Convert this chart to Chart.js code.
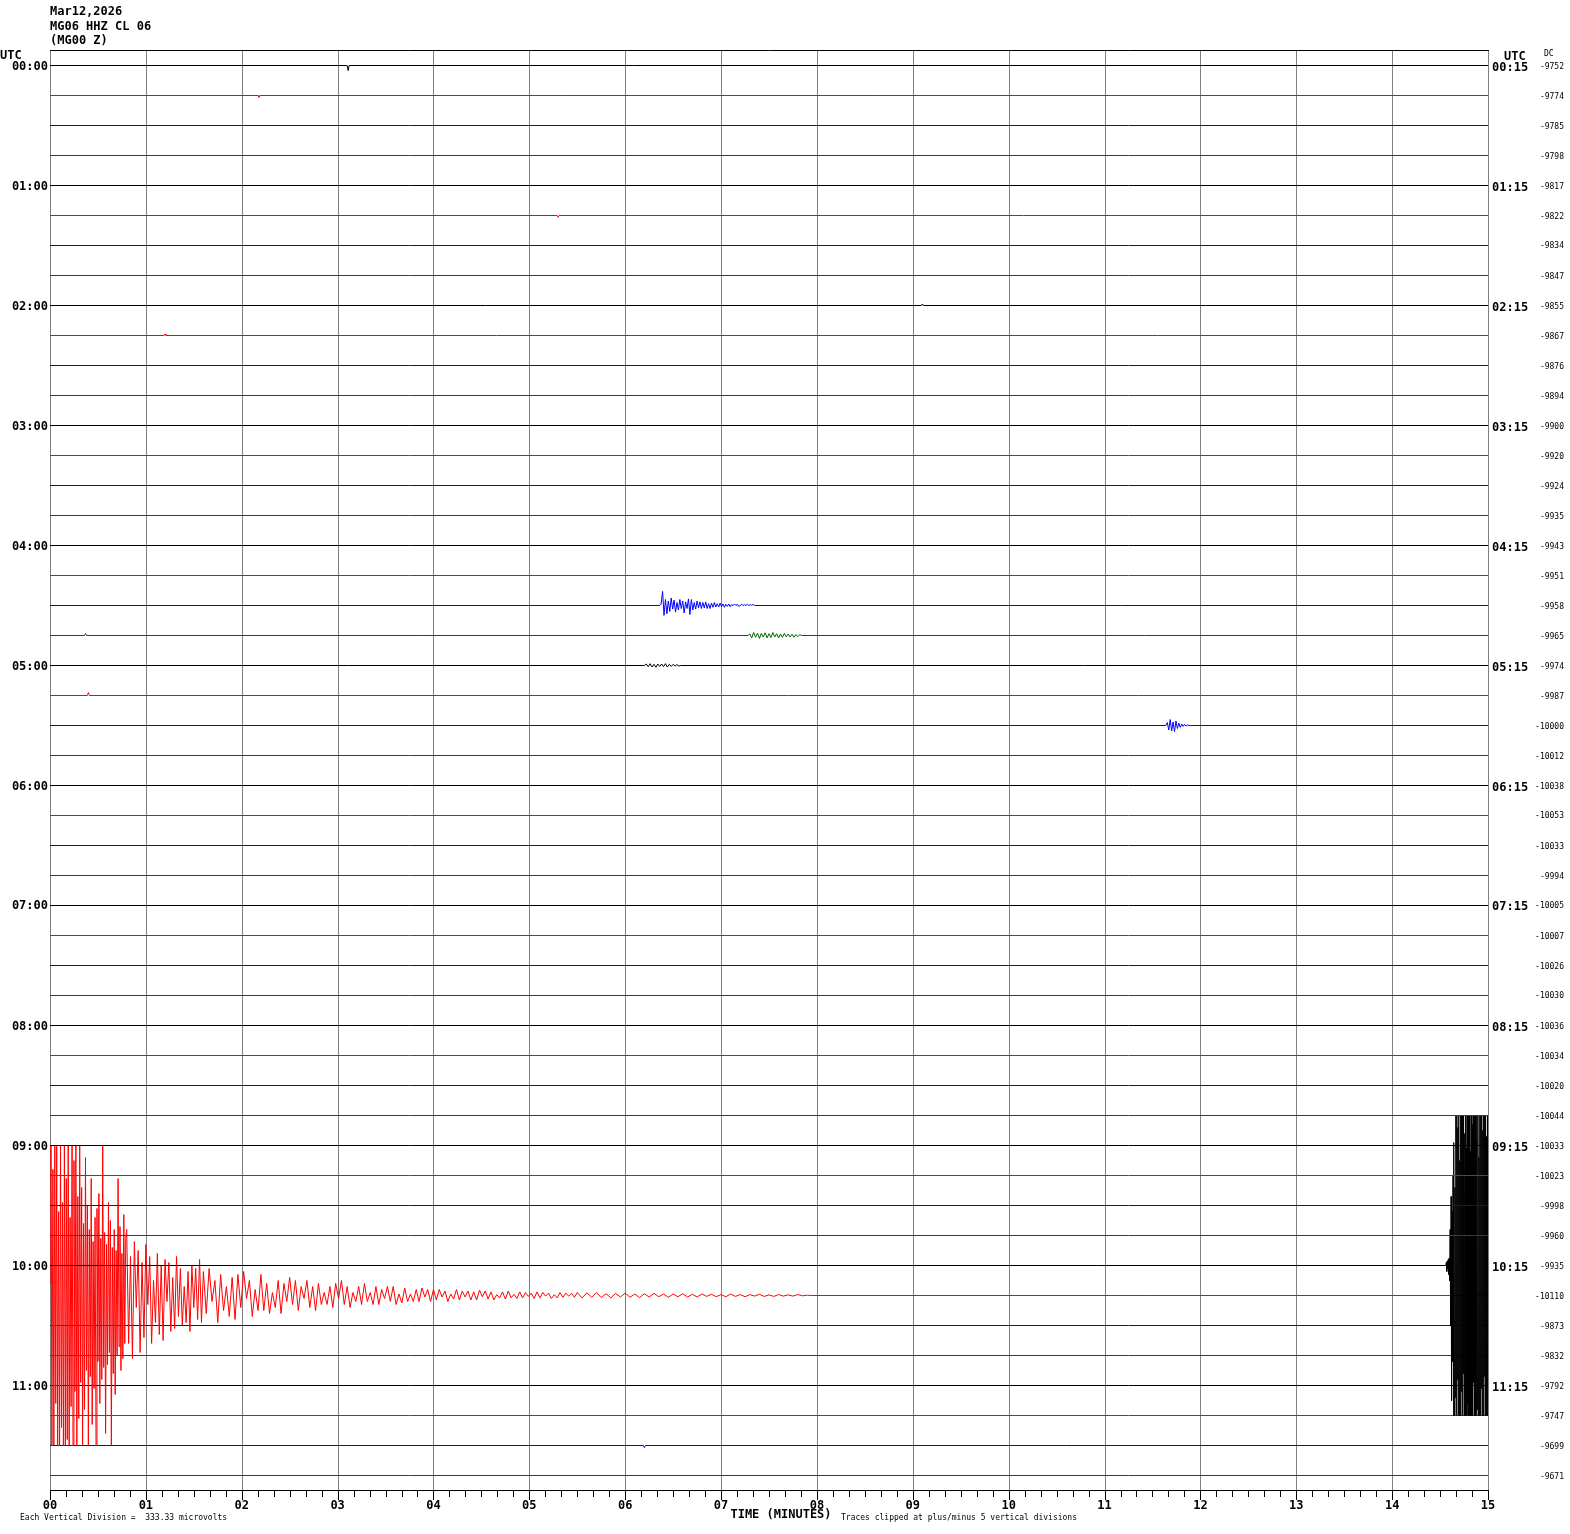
<!DOCTYPE html>
<html>
<head>
<meta charset="utf-8">
<title>MG06 HHZ CL 06 helicorder</title>
<script src="https://cdn.jsdelivr.net/npm/chart.js@4"></script>
<style>
  html, body { margin: 0; padding: 0; background: #fff; }
  canvas { display: block; }
</style>
</head>
<body>
<canvas id="heli" width="1570" height="1534"></canvas>
<script>
// header text
const titleLines = ['Mar12,2026', 'MG06 HHZ CL 06', '(MG00 Z)'];

// one trace every 15 minutes, labels on each hour row
const hourLabels = ['00:00', '01:00', '02:00', '03:00', '04:00', '05:00', '06:00', '07:00', '08:00', '09:00', '10:00', '11:00'];
const hourLabelsRight = ['00:15', '01:15', '02:15', '03:15', '04:15', '05:15', '06:15', '07:15', '08:15', '09:15', '10:15', '11:15'];
const minuteTicks = ['00', '01', '02', '03', '04', '05', '06', '07', '08', '09', '10', '11', '12', '13', '14', '15'];
const traceColors = ['#000000', '#ff0000', '#0000ff', '#006400'];

// DC offset per trace
const dcValues = [
  -9752, -9774, -9785, -9798, -9817, -9822, -9834, -9847,
  -9855, -9867, -9876, -9894, -9900, -9920, -9924, -9935,
  -9943, -9951, -9958, -9965, -9974, -9987, -10000, -10012,
  -10038, -10053, -10033, -9994, -10005, -10007, -10026, -10030,
  -10036, -10034, -10020, -10044, -10033, -10023, -9998, -9960,
  -9935, -10110, -9873, -9832, -9792, -9747, -9699, -9671
];

// deflections in vertical divisions (up = positive)
const blackOnset = [
  0, 0.1, -0.2, 0.15, -0.1, 0.2, -0.3, 0.25, -0.5, 1.2,
  -2.0, 2.3, -4.5, 1.8, -3.2, 3.0, -5, 4.1, -5, 2.6,
  -4.4, 5, -5, 5, -3.8, 4.6, -5, 5, -5, 3.5,
  -5, 5, -4.2, 5, -5, 5, -3.6, 5, -5, 4.4,
  -5, 5, -5, 3.9, -5, 5, -4.6, 5, -5, 5,
  -5, 3.8, -5, 5, -5, 4.7, -5, 5, -3.9, 5,
  -5, 5, -5, 4.2, -5, 5, -4.8, 5, -5, 3.6,
  -5, 5, -5, 5, -4.1, 5, -5, 4.5, -5, 5,
  -3.7, 5, -5, 5, -5, 4.3, -5, 5
];
const redCodaA = [
  0.4, 5, -5, 4.2, -5, 5, -3.6, 5, -5, 2.8,
  -5, 5, -4.4, 3.1, -5, 5, -5, 3.9, -4.8, 5,
  -5, 2.6, -3.7, 5, -5, 4.5, -3.2, 5, -5, 3.3,
  -4.1, 5, -2.9, 3.6, -5, 2.4, -3.8, 4.6, -2.5, 3.0,
  -5, 2.2, -2.7, 3.9, -4.3, 1.8, -3.1, 2.6, -5, 2.9,
  -2.2, 3.4, -3.6, 1.9, -2.8, 5, -2.4, 2.1, -4.6, 1.7,
  -2.3, 3.1, -1.9, 2.5, -5, 1.6, -2.6, 2.2, -3.3, 1.5,
  -2.0, 3.9, -1.7, 2.3, -2.5, 1.4, -2.1, 2.7, -1.6, 1.9
];
const redCodaB = [
  2.2, -1.6, 1.3, -2.1, 1.8, -0.4, 1.5, -1.9, 1.1, -1.4,
  1.7, -0.3, 1.3, -1.6, 0.5, -0.9, 1.4, -1.3, 1.0, -1.5,
  1.2, -0.2, 1.1, -1.2, 0.6, -1.1, 1.3, -0.7, 0.9, -1.0,
  0.3, -0.9, 0.8, -1.2, 1.0, -0.4, 0.9, -0.8, 1.2, -0.9
];
const redCodaC = [
  0.8, -0.6, 0.9, -0.2, 0.5, -0.9, 0.7, -0.5, 0.3, -0.7,
  0.6, -0.8, 0.7, -0.4, 0.8, -0.1, 0.5, -0.7, 0.2, -0.5,
  0.7, -0.5, 0.4, -0.6, 0.1, -0.4, 0.5, -0.6, 0.4, -0.2,
  0.6, -0.3, 0.5, -0.5, 0.3, -0.1, 0.5, -0.4, 0.3, -0.5,
  0.4, -0.3, 0.1, -0.3, 0.3, -0.4, 0.4, -0.1, 0.5, -0.3,
  0.3, -0.4, 0.1, -0.2, 0.3, -0.3, 0.4, -0.2, 0.1, -0.3,
  0.3, -0.3, 0.2, -0.1, 0.3, -0.2, 0.3, -0.3, 0.05, -0.25,
  0.25, -0.2, 0.05, -0.2, 0.2, -0.2, 0.25, -0.05, 0.2, -0.2,
  0.2, -0.15, 0.2, -0.05, 0.15, -0.2, 0.05, -0.12, 0.2, -0.15,
  0.15, -0.05, 0.15, -0.15, 0.12, -0.15, 0.18, -0.04, 0.15, -0.12,
  0.12, -0.15, 0.03, -0.08, 0.12, -0.12, 0.15, -0.08, 0.04, -0.1,
  0.12, -0.08, 0.1, -0.03, 0.08, -0.1, 0.12, -0.08, 0.1, -0.02,
  0.08, -0.1, 0.03, -0.08, 0.1, -0.06, 0.08, -0.02, 0.07, -0.06
];
const redCodaD = [
  0.1, -0.08, 0.09, -0.06, 0.1, -0.07, 0.06, -0.08, 0.07, -0.05,
  0.08, -0.06, 0.05, -0.07, 0.06, -0.05, 0.07, -0.04, 0.05, -0.06,
  0.05, -0.04, 0.06, -0.05, 0.04, -0.05, 0.05, -0.03, 0.04, -0.04,
  0.03, -0.04, 0.05, -0.03, 0.03, -0.04, 0.03, -0.02, 0.04, -0.03,
  0.02, -0.03, 0.03, -0.02, 0.02, -0.02, 0.03, -0.01, 0.01, 0
];
const blueEvent = [
  0, 0.05, 0.47, -0.33, 0.2, -0.28, 0.15, -0.2, 0.25, -0.12,
  0.18, -0.22, 0.1, -0.15, 0.2, -0.1, 0.15, -0.25, 0.12, -0.1,
  0.22, -0.3, 0.2, -0.15, 0.1, -0.12, 0.15, -0.08, 0.12, -0.1,
  0.1, -0.08, 0.12, -0.1, 0.06, -0.1, 0.08, -0.06, 0.1, -0.05,
  0.06, -0.05, 0.08, -0.04, 0.05, -0.06, 0.04, -0.03, 0.05, -0.04,
  0.03, 0, 0.05, 0, 0.04, -0.03, 0, 0.04, 0, 0.03,
  0, 0.04, 0, 0.03, 0, 0.04, 0
];
const greenEvent = [
  0, 0.05, -0.08, 0.1, -0.06, 0.08, -0.1, 0.07, -0.05, 0.09, -0.08,
  0.06, -0.07, 0.1, -0.05, 0.06, -0.08, 0.05, -0.06, 0.07, -0.04,
  0.05, -0.05, 0.04, -0.06, 0.03, -0.04, 0.03, 0
];
const blackSmall = [0, 0.05, -0.04, 0.06, -0.05, 0.04, -0.06, 0.05, -0.03, 0.05, -0.04, 0.06, -0.05, 0.04, -0.03, 0.04, -0.02, 0.03, -0.02, 0];
const blueSmall = [0, 0.1, -0.15, 0.2, -0.18, 0.12, -0.2, 0.15, -0.1, 0.08, -0.06, 0.05, -0.03, 0.04, -0.02, 0.02, 0, 0];

// [trace, start minute, minutes per sample, values]
const segments = [
  [40, 14.56, 0.005, blackOnset],
  [41, 0.0, 0.01, redCodaA],
  [41, 0.8, 0.02, redCodaB],
  [41, 1.6, 0.03, redCodaC],
  [41, 5.5, 0.05, redCodaD],
  [18, 6.36, 0.015, blueEvent],
  [19, 7.28, 0.02, greenEvent],
  [20, 6.2, 0.02, blackSmall],
  [22, 11.64, 0.015, blueSmall]
];

// isolated small wiggles: [trace, minute, deflection]
const blips = [
  [0, 3.11, -0.17], [1, 2.18, -0.06], [8, 9.1, 0.05], [19, 0.37, 0.07],
  [21, 0.4, 0.1], [46, 6.2, -0.07], [9, 1.2, 0.05], [5, 5.3, -0.06]
];

function buildTrace(i) {
  const pts = [];
  segments.filter(s => s[0] === i).forEach(([, t0, dt, vals]) => {
    vals.forEach((v, k) => pts.push({ x: t0 + k * dt, y: i - v }));
  });
  blips.filter(b => b[0] === i).forEach(([, m, v]) => {
    pts.push({ x: m - 0.01, y: i }, { x: m, y: i - v }, { x: m + 0.01, y: i });
  });
  pts.sort((a, b) => a.x - b.x);
  if (!pts.length || pts[0].x > 0) pts.unshift({ x: 0, y: i });
  if (pts[pts.length - 1].x < 15) pts.push({ x: 15, y: i });
  return pts;
}

const datasets = dcValues.map((dc, i) => ({
  label: 'trace ' + i,
  data: buildTrace(i),
  borderColor: traceColors[i % 4],
  borderWidth: 1,
  pointRadius: 0,
  tension: 0,
  fill: false
}));

const BOLD = 'bold 12px "DejaVu Sans Mono", monospace';
const SMALL = '8px "DejaVu Sans Mono", monospace';
// half a pixel (1/60 division) so the 1px traces land on pixel centres
const HALF_PX = 1 / 60;

const helicorderFrame = {
  id: 'helicorderFrame',
  beforeDatasetsDraw(chart) {
    const { ctx, chartArea: a, scales: { x } } = chart;
    ctx.save();
    ctx.lineWidth = 1;
    ctx.strokeStyle = '#808080';
    for (let m = 0; m <= 15; m++) {
      const px = Math.round(x.getPixelForValue(m)) + 0.5;
      ctx.beginPath();
      ctx.moveTo(px, a.top);
      ctx.lineTo(px, a.bottom);
      ctx.stroke();
    }
    ctx.strokeStyle = '#000000';
    ctx.beginPath();
    ctx.moveTo(a.left, a.top + 0.5);
    ctx.lineTo(a.right + 1, a.top + 0.5);
    ctx.moveTo(a.left, a.bottom + 0.5);
    ctx.lineTo(a.right + 1, a.bottom + 0.5);
    for (let s = 0; s <= 90; s++) {
      const px = Math.round(x.getPixelForValue(s / 6)) + 0.5;
      ctx.moveTo(px, a.bottom);
      ctx.lineTo(px, a.bottom + (s % 6 === 0 ? 10 : 7));
    }
    ctx.stroke();
    ctx.restore();
  },
  afterDraw(chart) {
    const { ctx, chartArea: a, scales: { x, y } } = chart;
    ctx.save();
    ctx.fillStyle = '#000000';
    ctx.textBaseline = 'middle';

    ctx.font = BOLD;
    ctx.textAlign = 'left';
    titleLines.forEach((t, k) => ctx.fillText(t, 50, 12 + k * 14.5));
    ctx.fillText('UTC', 0, 56);
    ctx.fillText('UTC', 1504, 57);

    hourLabels.forEach((t, k) => {
      const py = Math.round(y.getPixelForValue(k * 4)) + 1;
      ctx.textAlign = 'right';
      ctx.fillText(t, 48, py);
      ctx.textAlign = 'left';
      ctx.fillText(hourLabelsRight[k], 1492, py + 1);
    });

    ctx.textAlign = 'center';
    minuteTicks.forEach((t, m) => ctx.fillText(t, x.getPixelForValue(m), a.bottom + 16));
    ctx.fillText('TIME (MINUTES)', 781, 1515);

    ctx.font = SMALL;
    ctx.textAlign = 'right';
    dcValues.forEach((v, i) => ctx.fillText(String(v), 1564, Math.round(y.getPixelForValue(i)) + 1));
    ctx.textAlign = 'left';
    ctx.fillText('DC', 1544, 54);
    ctx.fillText('Each Vertical Division =  333.33 microvolts', 20, 1518);
    ctx.fillText('Traces clipped at plus/minus 5 vertical divisions', 841, 1518);
    ctx.restore();
  }
};

// eslint-disable-next-line no-new
new Chart(document.getElementById('heli').getContext('2d'), {
  type: 'line',
  data: { datasets },
  options: {
    responsive: false,
    devicePixelRatio: 1,
    animation: false,
    parsing: false,
    normalized: true,
    layout: { padding: { left: 50, right: 82, top: 50, bottom: 44 } },
    scales: {
      x: { type: 'linear', min: 0, max: 15, display: false },
      y: { type: 'linear', min: -0.5 - HALF_PX, max: 47.5 - HALF_PX, reverse: true, display: false }
    },
    plugins: {
      legend: { display: false },
      tooltip: { enabled: false }
    }
  },
  plugins: [helicorderFrame]
});
</script>
</body>
</html>
